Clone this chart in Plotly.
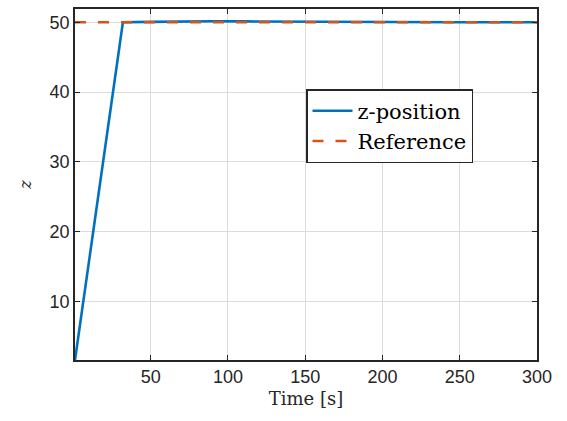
import plotly.graph_objects as go

time_s = [1, 32, 50, 70, 90, 110, 140, 200, 250, 300]
z_pos = [1.6, 50.0, 50.05, 50.12, 50.15, 50.12, 50.08, 50.03, 50.01, 50.0]
ref_t = [1, 300]
ref_z = [50, 50]

x_ticks = [50, 100, 150, 200, 250, 300]
y_ticks = [10, 20, 30, 40, 50]

fig = go.Figure()
fig.add_trace(go.Scatter(x=time_s, y=z_pos, mode="lines", name="z-position",
                         line=dict(color="#0072BD", width=2.6)))
fig.add_trace(go.Scatter(x=ref_t, y=ref_z, mode="lines", name="Reference",
                         line=dict(color="#D95319", width=2.6, dash="11px,12px")))

axis_common = dict(showline=True, linecolor="#262626", linewidth=1.5, mirror="ticks",
                   ticks="inside", ticklen=5, tickwidth=1.2, tickcolor="#262626",
                   showgrid=True, gridcolor="#dcdcdc", gridwidth=1, zeroline=False,
                   tickfont=dict(family="Liberation Sans, Arial", size=18, color="#262626"))

fig.update_xaxes(range=[1, 300], tickvals=x_ticks, **axis_common,
                 title=dict(text="Time [s]", font=dict(family="DejaVu Serif", size=18, color="#262626"), standoff=6))
fig.update_yaxes(range=[1.6, 51.9], tickvals=y_ticks, **axis_common,
                 title=dict(text="<i>z</i>", font=dict(family="DejaVu Serif", size=16, color="#262626"), standoff=14))

fig.update_layout(
    width=567, height=421,
    margin=dict(l=75, r=30, t=7, b=61),
    paper_bgcolor="white", plot_bgcolor="white",
    showlegend=True,
    legend=dict(x=0.5, y=0.772, xanchor="left", yanchor="top",
                bgcolor="white", bordercolor="#262626", borderwidth=1.5,
                font=dict(family="DejaVu Serif", size=21, color="#000000"),
                tracegroupgap=0, itemwidth=40),
)

fig.write_html("out.html")
